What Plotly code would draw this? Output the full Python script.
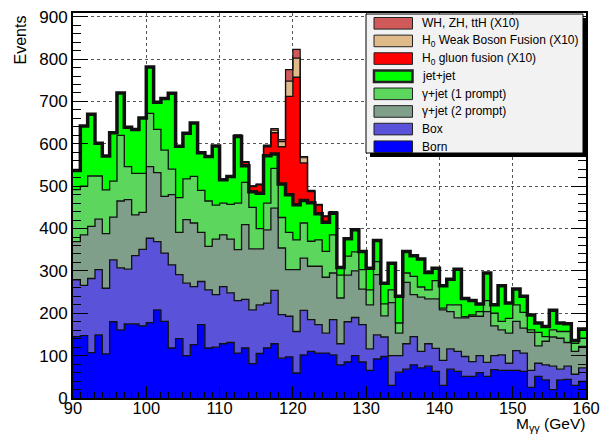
import plotly.graph_objects as go

# ---------------- data (events per 1 GeV bin, 90..159) ----------------
bin_low = list(range(90, 160))
bin_edges = bin_low + [160]

born = [145, 147, 107, 149, 104, 180, 161, 175, 175, 170,
        178, 208, 181, 118, 140, 100, 126, 173, 118, 120,
        128, 131, 106, 118, 81, 105, 118, 128, 94, 97,
        59, 102, 110, 106, 106, 102, 78, 85, 100, 85,
        65, 92, 98, 30, 61, 68, 78, 71, 75, 63,
        30, 68, 63, 51, 51, 60, 51, 67, 65, 65,
        65, 63, 25, 51, 43, 20, 43, 44, 30, 39]

box = [134, 119, 175, 154, 155, 146, 146, 129, 161, 181,
       199, 161, 161, 196, 151, 171, 137, 102, 137, 124,
       135, 117, 124, 115, 127, 115, 106, 126, 103, 96,
       98, 105, 75, 67, 47, 83, 50, 95, 90, 88,
       51, 57, 46, 70, 39, 60, 67, 39, 53, 54,
       59, 48, 47, 47, 35, 40, 33, 33, 37, 17,
       47, 43, 40, 31, 35, 55, 25, 31, 26, 32]

gjet_2prompt = [90, 119, 123, 119, 129, 101, 158, 164, 96, 87,
                169, 163, 134, 166, 100, 150, 150, 116, 103, 131,
                122, 127, 120, 176, 144, 132, 173, 194, 157, 110,
                146, 123, 126, 138, 132, 110, 108, 110, 110, 84,
                104, 142, 50, 125, 53, 145, 99, 128, 106, 117,
                119, 88, 79, 91, 107, 93, 120, 70, 59, 71,
                69, 59, 90, 41, 56, 69, 73, 56, 54, 51]

gjet_1prompt = [123, 115, 119, 102, 103, 85, 155, 78, 98, 92,
                126, 102, 109, 60, 82, 96, 110, 99, 107, 80,
                75, 82, 110, 100, 98, 48, 63, 94, 72, 88,
                70, 83, 59, 62, 61, 90, 54, 45, 45, 46,
                35, 31, 28, 30, 24, 22, 43, 24, 21, 43,
                4, 16, 31, 3, 3, 11, 26, 30, 20, 35,
                39, 37, 6, 32, 11, 17, 16, 26, 19, 19]

jetjet = [45, 142, 146, 77, 80, 114, 100, 93, 104, 131,
          109, 64, 122, 179, 121, 108, 126, 89, 105, 140,
          55, 66, 157, 39, 37, 83, 112, 34, 79, 89,
          83, 53, 91, 62, 69, 51, 18, 41, 52, 43,
          51, 50, 49, 63, 63, 51, 49, 66, 41, 29,
          53, 60, 84, 43, 34, 18, 65, 20, 84, 36,
          37, 38, 35, 22, 24, 46, 20, 18, 7, 22]

h_gluon = [0] * 20 + [1, 2, 3, 8, 12, 20, 21, 50, 88, 232,
                      301, 89, 26, 20, 13, 4, 2, 1, 1, 0] + [0] * 30

h_wbf = [0] * 20 + [0, 0, 0.5, 1, 1, 1, 2, 6, 12, 36,
                    45, 12, 2, 1, 1, 0, 0, 0, 0, 0] + [0] * 30

h_vh = [0] * 20 + [0, 0, 0, 1, 1, 1, 2, 4, 5, 27,
                   21, 3, 1, 1, 1, 0, 0, 0, 0, 0] + [0] * 30

legend_labels = ["WH, ZH, ttH (X10)",
                 "H<sub>0</sub> Weak Boson Fusion (X10)",
                 "H<sub>0</sub> gluon fusion (X10)",
                 "jet+jet",
                 "γ+jet (1 prompt)",
                 "γ+jet (2 prompt)",
                 "Box",
                 "Born"]

# ---------------- styles ----------------
C_BORN = "#0000ff"
C_BOX = "#5a52d8"
C_G2 = "#809f8b"
C_G1 = "#5cd65c"
C_JJ = "#00ff00"
C_GGF = "#ff0000"
C_WBF = "#e0bb8a"
C_VH = "#d05a5a"

stack = [  # bottom to top
    ("Born", born, C_BORN, 1.3),
    ("Box", box, C_BOX, 1.3),
    ("γ+jet (2 prompt)", gjet_2prompt, C_G2, 1.3),
    ("γ+jet (1 prompt)", gjet_1prompt, C_G1, 1.3),
    ("jet+jet", jetjet, C_JJ, 3.5),
    ("H0 gluon fusion", h_gluon, C_GGF, 1.3),
    ("H0 WBF", h_wbf, C_WBF, 1.2),
    ("WH, ZH, ttH", h_vh, C_VH, 1.2),
]

fig = go.Figure()
for name, vals, col, lw in stack:
    fig.add_trace(go.Scatter(
        x=bin_edges, y=list(vals) + [vals[-1]], name=name,
        mode="lines", stackgroup="s",
        line=dict(shape="hv", color="#111111", width=lw),
        fillcolor=col, showlegend=False, hoverinfo="skip"))

W, H = 601, 436
ML, MR, MT, MB = 73, 15, 13, 38
PW, PH = W - ML - MR, H - MT - MB


def px(x):
    return (x - ML) / PW


def py(y):
    return (H - MB - y) / PH


fig.update_layout(
    template="none",
    width=W, height=H,
    margin=dict(l=ML, r=MR, t=MT, b=MB, pad=0, autoexpand=False),
    paper_bgcolor="white", plot_bgcolor="white",
    font=dict(family="Liberation Sans, Arial, sans-serif", color="black"),
    showlegend=False,
)

fig.update_xaxes(
    range=[90, 160], tickmode="linear", tick0=90, dtick=10, automargin=False,
    ticks="inside", ticklen=12, tickwidth=1, tickcolor="black",
    showline=True, linewidth=2, linecolor="black", mirror=True,
    showgrid=True, gridcolor="#555555", griddash="dot", gridwidth=1,
    zeroline=False, tickfont=dict(size=16.5), ticklabelstandoff=-6,
    minor=dict(dtick=1, tick0=90, ticks="inside", ticklen=6, tickcolor="black", showgrid=False),
)
fig.update_yaxes(
    range=[0, 908.7], tickmode="linear", tick0=0, dtick=100, automargin=False,
    ticks="inside", ticklen=15, tickwidth=1, tickcolor="black",
    showline=True, linewidth=2, linecolor="black", mirror="ticks",
    showgrid=True, gridcolor="#555555", griddash="dot", gridwidth=1,
    zeroline=False, tickfont=dict(size=17),
    minor=dict(dtick=20, tick0=0, ticks="inside", ticklen=8, tickcolor="black", showgrid=False),
)

# axis titles (ROOT style)
fig.add_annotation(text="Events", xref="paper", yref="paper", x=px(20), y=py(14),
                   xanchor="center", yanchor="top", textangle=-90, showarrow=False,
                   font=dict(size=16))
fig.add_annotation(text="M<sub>γγ</sub> (GeV)", xref="paper", yref="paper", x=px(587), y=py(436),
                   xanchor="right", yanchor="bottom", showarrow=False, font=dict(size=15.5))

# legend box
lx0, lx1, ly0, ly1 = 366, 583, 14, 153
fig.add_shape(type="rect", xref="paper", yref="paper", x0=px(lx0 + 4), x1=px(lx1 + 4),
              y0=py(ly1 + 4), y1=py(ly0 + 4), fillcolor="black", line=dict(width=0), layer="above")
fig.add_shape(type="rect", xref="paper", yref="paper", x0=px(lx0), x1=px(lx1),
              y0=py(ly1), y1=py(ly0), fillcolor="#f2f2f2", line=dict(color="black", width=1), layer="above")
leg_cols = [C_VH, C_WBF, C_GGF, C_JJ, C_G1, C_G2, C_BOX, C_BORN]
row0, drow = 23.3, 17.63
for i, (lab, col) in enumerate(zip(legend_labels, leg_cols)):
    yc = row0 + i * drow
    bw = 2.5 if lab == "jet+jet" else 1
    fig.add_shape(type="rect", xref="paper", yref="paper", x0=px(374), x1=px(412.5),
                  y0=py(yc + 5.8), y1=py(yc - 5.8), fillcolor=col,
                  line=dict(color="#222222", width=bw), layer="above")
    fig.add_annotation(text=lab, xref="paper", yref="paper", x=px(420), y=py(yc),
                       xanchor="left", yanchor="middle", showarrow=False,
                       font=dict(size=12))

fig.write_html("out.html", config={"displayModeBar": False},
               post_script="document.body.style.margin='0';")
